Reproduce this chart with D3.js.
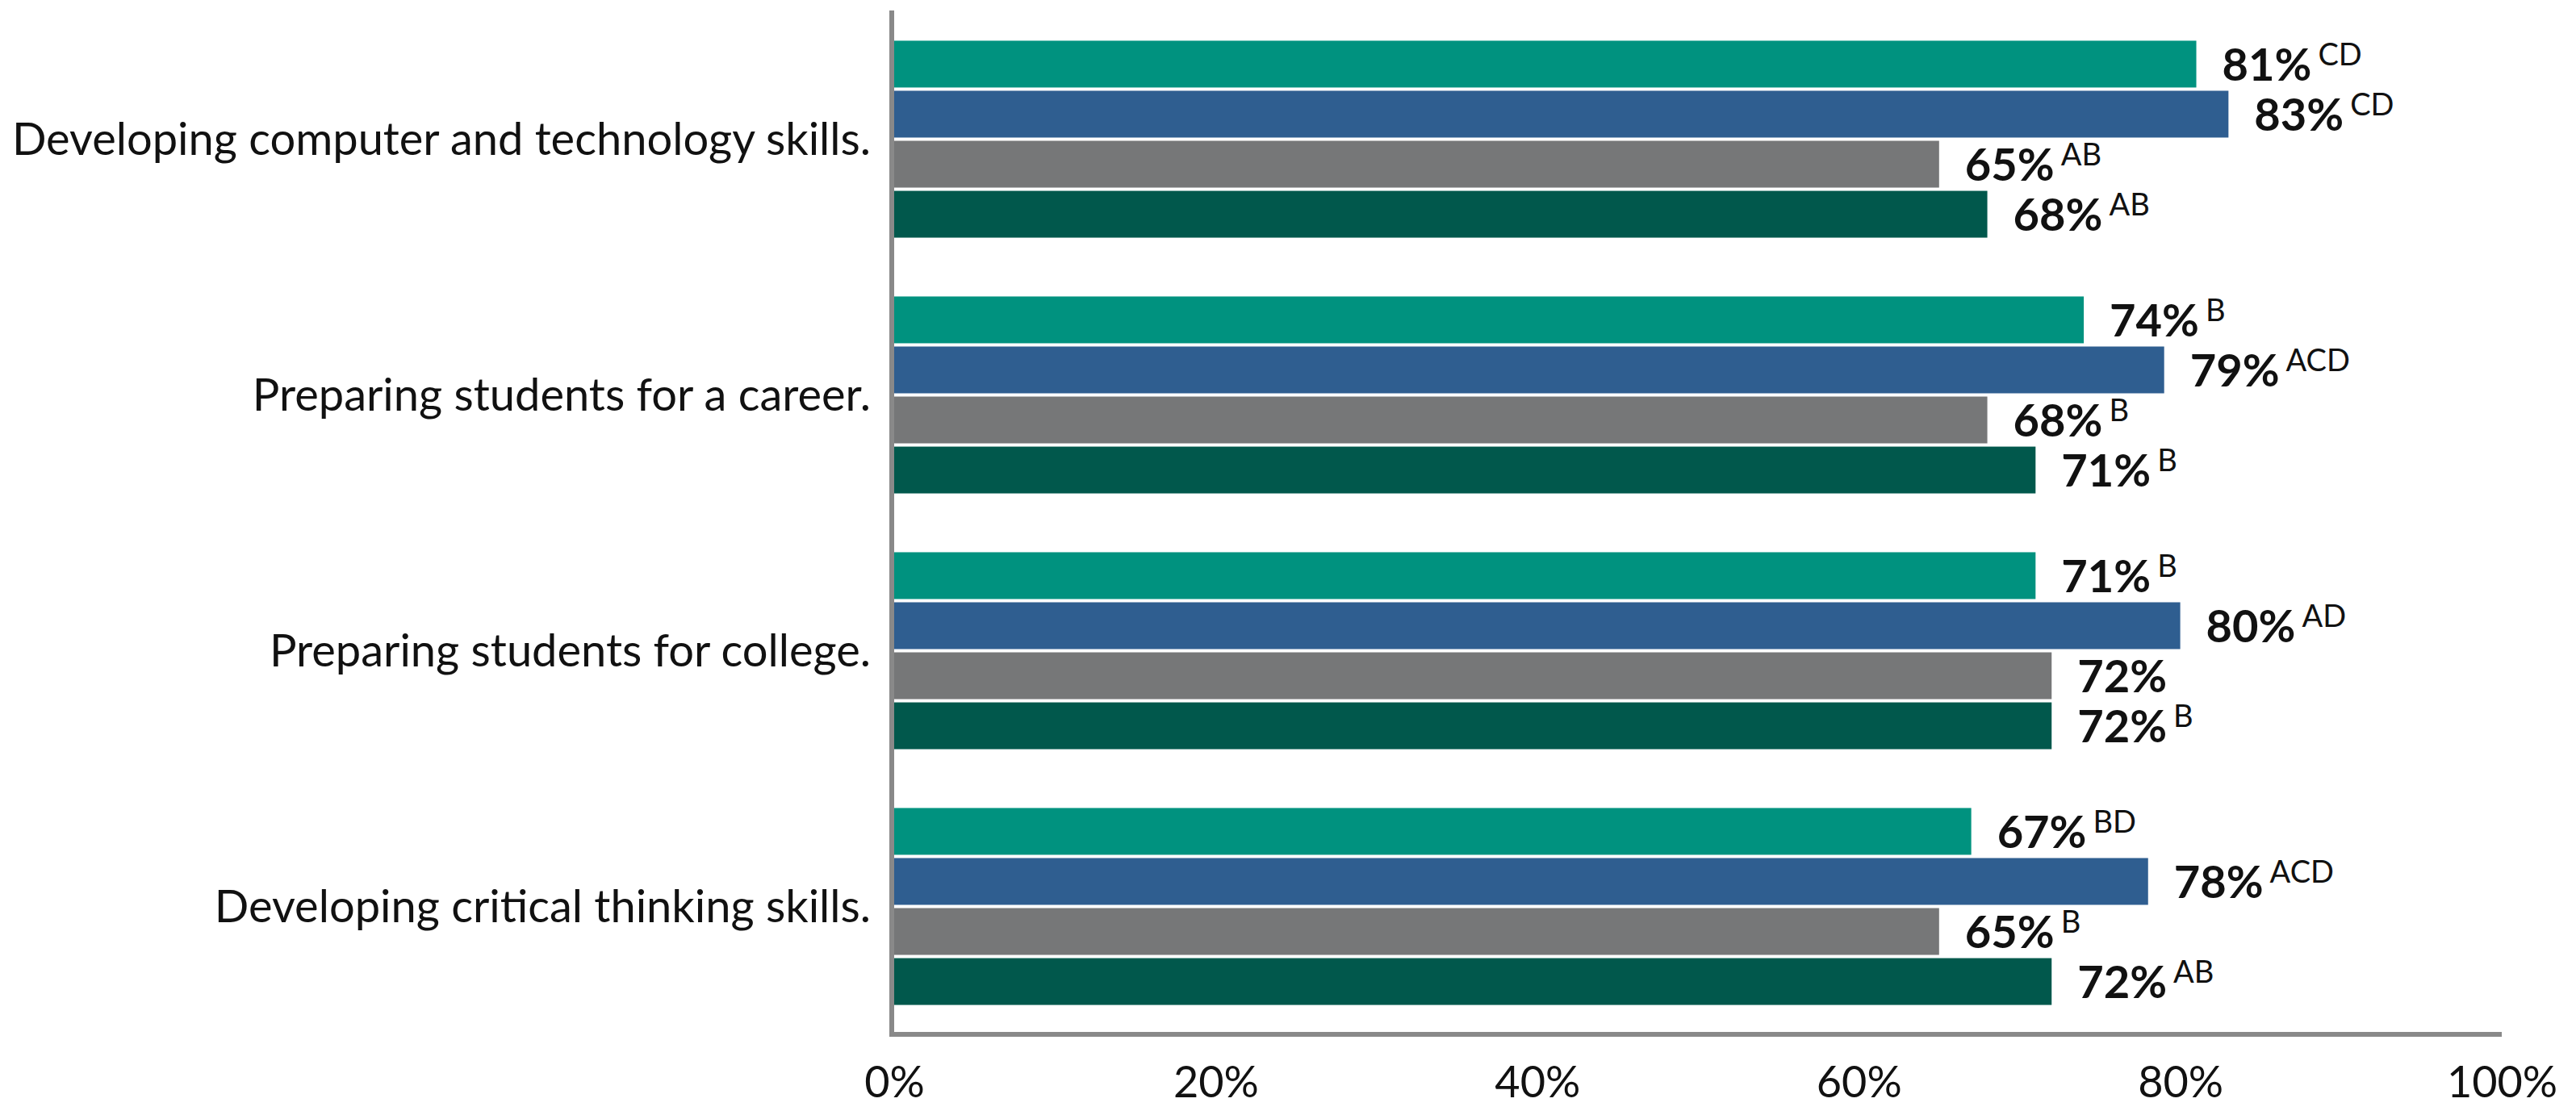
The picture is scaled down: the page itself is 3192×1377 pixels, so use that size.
<!DOCTYPE html>
<html>
<head>
<meta charset="utf-8">
<script src="https://cdn.jsdelivr.net/npm/d3@7"></script>
<style>
  body { margin: 0; background: #fff; }
  text { font-family: Lato, "Open Sans", sans-serif; fill: #111; }
</style>
</head>
<body>
<div id="chart"></div>
<script>
var categories = [
  "Developing computer and technology skills.",
  "Preparing students for a career.",
  "Preparing students for college.",
  "Developing critical thinking skills."
];
var seriesKeys = ["A", "B", "C", "D"];
var valuesA = [81, 74, 71, 67];
var valuesB = [83, 79, 80, 78];
var valuesC = [65, 68, 72, 65];
var valuesD = [68, 71, 72, 72];
var supA = ["CD", "B", "B", "BD"];
var supB = ["CD", "ACD", "AD", "ACD"];
var supC = ["AB", "B", "", "B"];
var supD = ["AB", "B", "B", "AB"];
var tickValues = [0, 20, 40, 60, 80, 100];

var colors = { A: "#00927f", B: "#2f5e90", C: "#767778", D: "#01584c" };

var width = 3192, height = 1377;
var x0 = 1108, x1 = 3100, yTop = 14, yBottom = 1282;

var series = seriesKeys.map(function(k, i) {
  return { key: k, values: [valuesA, valuesB, valuesC, valuesD][i], sups: [supA, supB, supC, supD][i] };
});

var svg = d3.select('#chart')
  .append('svg')
  .attr('width', width)
  .attr('height', height);

var x = d3.scaleLinear().domain([0, 100]).range([x0, x1]);

var y = d3.scaleBand()
  .domain(categories)
  .range([yTop, yBottom])
  .paddingInner(0.23)
  .paddingOuter(0.115);

var ySub = d3.scaleBand()
  .domain(seriesKeys)
  .range([0, y.bandwidth()])
  .paddingInner(0.065);

var groups = svg.selectAll('.group')
  .data(categories)
  .enter()
  .append('g')
  .attr('class', 'group')
  .attr('transform', function(d) { return 'translate(0,' + y(d) + ')'; });

groups.each(function(cat, ci) {
  var g = d3.select(this);
  series.forEach(function(s) {
    var v = s.values[ci];
    g.append('rect')
      .attr('x', x(0))
      .attr('y', ySub(s.key))
      .attr('width', x(v) - x(0))
      .attr('height', ySub.bandwidth())
      .attr('fill', colors[s.key]);

    var t = g.append('text')
      .attr('x', x(v) + 32)
      .attr('y', ySub(s.key) + ySub.bandwidth() / 2)
      .attr('dy', '0.36em')
      .style('font-size', '56px');
    t.append('tspan')
      .style('font-weight', 'bold')
      .text(v + '%');
    if (s.sups[ci]) {
      t.append('tspan')
        .attr('dx', 8)
        .attr('dy', '-0.5em')
        .style('font-size', '38px')
        .text(s.sups[ci]);
    }
  });
});

// category labels
svg.selectAll('.cat')
  .data(categories)
  .enter()
  .append('text')
  .attr('class', 'cat')
  .attr('x', 1079)
  .attr('y', function(d) { return y(d) + y.bandwidth() / 2; })
  .attr('dy', '0.35em')
  .attr('text-anchor', 'end')
  .style('font-size', '56px')
  .text(function(d) { return d; });

// axes lines
svg.append('line')
  .attr('x1', x(0) - 3).attr('x2', x(0) - 3)
  .attr('y1', 13).attr('y2', yBottom + 3)
  .attr('stroke', '#898989').attr('stroke-width', 6);

svg.append('line')
  .attr('x1', x(0) - 6).attr('x2', x(100))
  .attr('y1', yBottom).attr('y2', yBottom)
  .attr('stroke', '#898989').attr('stroke-width', 6);

var xAxis = d3.axisBottom(x)
  .tickValues(tickValues)
  .tickSize(0)
  .tickPadding(0)
  .tickFormat(function(d) { return d + '%'; });

var ax = svg.append('g')
  .attr('transform', 'translate(0,' + 1322 + ')')
  .call(xAxis);
ax.select('.domain').remove();
ax.selectAll('text')
  .style('font-family', 'Lato, sans-serif')
  .style('font-size', '54px')
  .attr('fill', '#111');
</script>
</body>
</html>
